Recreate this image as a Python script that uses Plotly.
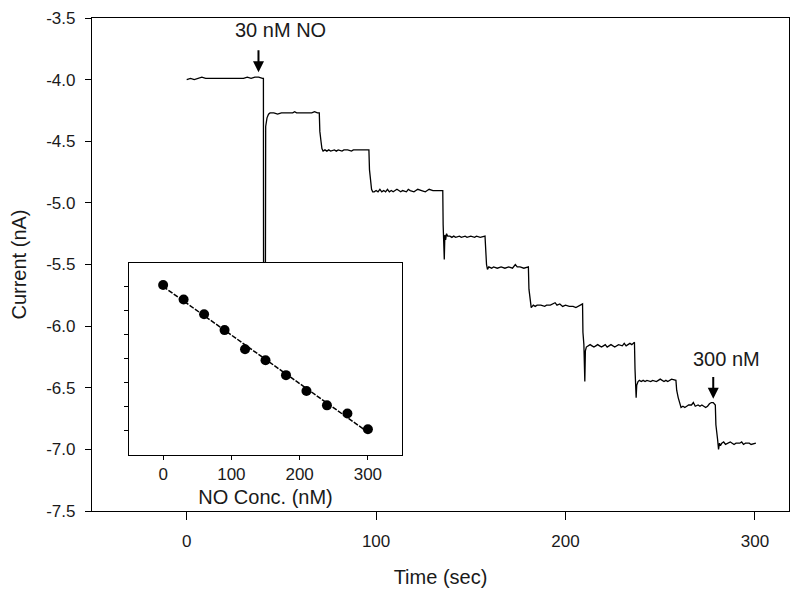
import plotly.graph_objects as go

# ---------------- data ----------------
time_sec = [
    0, 2, 4, 6, 8, 10, 12, 14, 16, 18, 20, 22, 24, 26, 28, 30, 32, 34, 36, 38, 40,
    40.5, 40.6, 41.5, 41.7, 42.4, 43.2,
    44, 46, 48, 50, 52, 54, 56, 57, 58, 60, 62, 64, 66, 67.5, 69, 70,
    70.3, 70.9, 71.4, 72,
    73, 74, 75, 76, 78, 79, 80, 82, 83, 85, 87, 88, 90, 92, 94, 96.2,
    96.5, 97.1, 97.6, 98.2,
    99, 100, 101, 102, 103, 104, 105, 106, 107, 108, 109, 110, 111, 112, 113, 114,
    116, 117, 118, 120, 121, 122, 124, 126, 127, 128, 130, 132, 135.2,
    135.4, 135.8, 136.0, 136.3, 136.7, 137.2, 137.8,
    139, 140, 141, 142, 144, 145, 147, 148, 150, 152, 153, 155, 157.5,
    157.8, 158.3, 158.8,
    159.5, 161, 162, 164, 166, 168, 170, 172, 173.5, 174.5, 176, 178, 180.4,
    180.7, 181.3, 181.9,
    183, 184, 185, 187, 189, 190, 192, 193.5, 194.5, 195.5, 197, 198.5, 200, 202,
    204, 205.5, 207, 209,
    209.2, 209.7, 210.2, 210.5, 211,
    212, 213, 214, 215, 216, 217, 218, 219, 220, 221, 222, 223, 224, 226, 227, 228,
    230, 231, 232, 233, 234, 235, 236.4,
    236.7, 237.3, 237.6, 238.3, 239,
    240, 241, 242, 243, 245, 246, 248, 249, 250, 252, 253, 254, 256, 258.3,
    258.7, 259.5, 260.4, 261,
    262, 263, 264, 265, 266.5, 267.5, 268.5, 270, 271, 272, 273, 274, 275, 276, 277,
    278, 279.1,
    279.4, 280.3, 280.8, 281.3, 281.8,
    282.5, 283.5, 284.5, 285.5, 287, 288, 289, 290, 292, 293, 294, 295, 297, 298, 300.5,
]
current_nA = [
    -4.00, -3.99, -4.00, -3.99, -3.98, -3.99, -3.99, -3.99, -3.99, -3.99, -3.99, -3.99,
    -3.99, -3.99, -3.99, -3.99, -3.98, -3.99, -3.98, -3.98, -3.99,
    -3.99, -6.10, -6.10, -4.38, -4.31, -4.28,
    -4.27, -4.27, -4.28, -4.27, -4.27, -4.27, -4.27, -4.26, -4.27, -4.27, -4.27, -4.27,
    -4.27, -4.26, -4.27, -4.27,
    -4.42, -4.50, -4.56, -4.58,
    -4.57, -4.58, -4.57, -4.58, -4.57, -4.58, -4.57, -4.58, -4.57, -4.57, -4.58, -4.57,
    -4.57, -4.57, -4.57, -4.57,
    -4.73, -4.85, -4.89, -4.91,
    -4.91, -4.90, -4.91, -4.89, -4.91, -4.90, -4.91, -4.89, -4.91, -4.90, -4.91, -4.90,
    -4.89, -4.90, -4.91, -4.90,
    -4.91, -4.89, -4.90, -4.91, -4.90, -4.89, -4.90, -4.91, -4.90, -4.89, -4.90, -4.90,
    -4.90,
    -5.18, -5.30, -5.46, -5.26, -5.30, -5.25, -5.27,
    -5.27, -5.28, -5.27, -5.28, -5.27, -5.28, -5.27, -5.28, -5.27, -5.28, -5.27, -5.28,
    -5.27,
    -5.40, -5.50, -5.54,
    -5.52, -5.53, -5.52, -5.53, -5.52, -5.53, -5.52, -5.53, -5.50, -5.52, -5.52, -5.53,
    -5.52,
    -5.70, -5.80, -5.85,
    -5.83, -5.84, -5.83, -5.83, -5.84, -5.83, -5.83, -5.82, -5.81, -5.83, -5.82, -5.84,
    -5.83, -5.84, -5.84, -5.85, -5.84, -5.82,
    -6.05, -6.15, -6.45, -6.20, -6.17,
    -6.16, -6.15, -6.16, -6.17, -6.16, -6.15, -6.16, -6.17, -6.16, -6.15, -6.17, -6.16,
    -6.15, -6.17, -6.16, -6.15, -6.16, -6.14, -6.16, -6.15, -6.14, -6.15, -6.13,
    -6.35, -6.58, -6.48, -6.45, -6.44,
    -6.45, -6.44, -6.45, -6.44, -6.45, -6.44, -6.45, -6.44, -6.43, -6.45, -6.44, -6.45,
    -6.43, -6.44,
    -6.52, -6.58, -6.62, -6.66,
    -6.65, -6.66, -6.65, -6.64, -6.64, -6.62, -6.65, -6.64, -6.65, -6.64, -6.65, -6.66,
    -6.65, -6.63, -6.62, -6.62, -6.64,
    -6.80, -6.92, -7.00, -6.95, -6.97,
    -6.95, -6.94, -6.96, -6.95, -6.94, -6.95, -6.96, -6.95, -6.95, -6.94, -6.96, -6.95,
    -6.95, -6.96, -6.95,
]

# inset calibration
no_conc_nM = [0, 30, 60, 90, 120, 150, 180, 210, 240, 270, 300]
inset_current_nA = [-3.96, -4.26, -4.57, -4.90, -5.30, -5.53, -5.84, -6.17, -6.47, -6.64, -6.97]
fit_conc_nM = [0, 300]
fit_current_nA = [-3.99, -7.03]

# tick labels
y_tickvals = [-3.5, -4.0, -4.5, -5.0, -5.5, -6.0, -6.5, -7.0, -7.5]
y_ticktext = ["-3.5", "-4.0", "-4.5", "-5.0", "-5.5", "-6.0", "-6.5", "-7.0", "-7.5"]
x_tickvals = [0, 100, 200, 300]
x_ticktext = ["0", "100", "200", "300"]
inset_x_tickvals = [0, 100, 200, 300]
inset_x_ticktext = ["0", "100", "200", "300"]
inset_y_tickvals = [-4.0, -4.5, -5.0, -5.5, -6.0, -6.5, -7.0]

# annotation anchors (data coords)
first_arrow = {"x": 37.9, "tip": -3.94, "tail": -3.75, "label_x": 49.5, "label_y": -3.60, "text": "30 nM NO"}
last_arrow = {"x": 278.0, "tip": -6.59, "tail": -6.40, "label_x": 285.0, "label_y": -6.27, "text": "300 nM"}

# ---------------- figure ----------------
FONT = "Liberation Sans, Arial, sans-serif"
INK = "#1a1a1a"

fig = go.Figure()
fig.add_trace(go.Scatter(
    x=time_sec, y=current_nA, mode="lines",
    line=dict(color="black", width=1.3), xaxis="x", yaxis="y", showlegend=False,
))
fig.add_trace(go.Scatter(
    x=fit_conc_nM, y=fit_current_nA, mode="lines",
    line=dict(color="black", width=1.5, dash="5px,1.5px"),
    xaxis="x2", yaxis="y2", showlegend=False,
))
fig.add_trace(go.Scatter(
    x=no_conc_nM, y=inset_current_nA, mode="markers",
    marker=dict(color="black", size=10), xaxis="x2", yaxis="y2", showlegend=False,
))

axis_common = dict(showgrid=False, zeroline=False, showline=True, linecolor="black",
                   linewidth=1.3, mirror=True, ticks="outside", tickcolor="black",
                   tickwidth=1.2, automargin=False)

# page body has an 8px default margin, so the figure is sized to fit the window
fig.update_layout(
    width=792, height=598,
    margin=dict(l=84, r=11, t=10, b=95),
    paper_bgcolor="white", plot_bgcolor="white",
    font=dict(family=FONT, color=INK),
    xaxis=dict(**axis_common, range=[-50, 318], domain=[0, 1], anchor="y",
               tickmode="array", tickvals=x_tickvals, ticktext=x_ticktext,
               ticklen=8, ticklabelstandoff=6, tickfont=dict(size=17),
               title=dict(text="Time (sec)", font=dict(size=20), standoff=20)),
    yaxis=dict(**axis_common, range=[-7.5, -3.5], domain=[0, 1], anchor="x",
               tickmode="array", tickvals=y_tickvals, ticktext=y_ticktext,
               ticklen=6, ticklabelstandoff=6, tickfont=dict(size=17),
               title=dict(text="Current (nA)", font=dict(size=20), standoff=14)),
    xaxis2=dict(**axis_common, range=[-50, 350], domain=[0.0531, 0.4448], anchor="y2",
                tickmode="array", tickvals=inset_x_tickvals, ticktext=inset_x_ticktext,
                ticklen=4, ticklabelstandoff=0, tickfont=dict(size=17),
                title=dict(text="NO Conc. (nM)", font=dict(size=20), standoff=6)),
    yaxis2=dict(**axis_common, range=[-7.5, -3.5], domain=[0.1142, 0.5030], anchor="x2",
                tickmode="array", tickvals=inset_y_tickvals, showticklabels=False,
                ticklen=4),
)

for a in (first_arrow, last_arrow):
    fig.add_annotation(x=a["x"], y=a["tip"], ax=a["x"], ay=a["tail"],
                       xref="x", yref="y", axref="x", ayref="y",
                       text="", showarrow=True, arrowhead=2, arrowsize=1.1,
                       arrowwidth=2, arrowcolor="black", standoff=0)
    fig.add_annotation(x=a["label_x"], y=a["label_y"], xref="x", yref="y",
                       text=a["text"], showarrow=False,
                       font=dict(size=20, family=FONT, color=INK))

fig.write_html("out.html", config={"displayModeBar": False})
